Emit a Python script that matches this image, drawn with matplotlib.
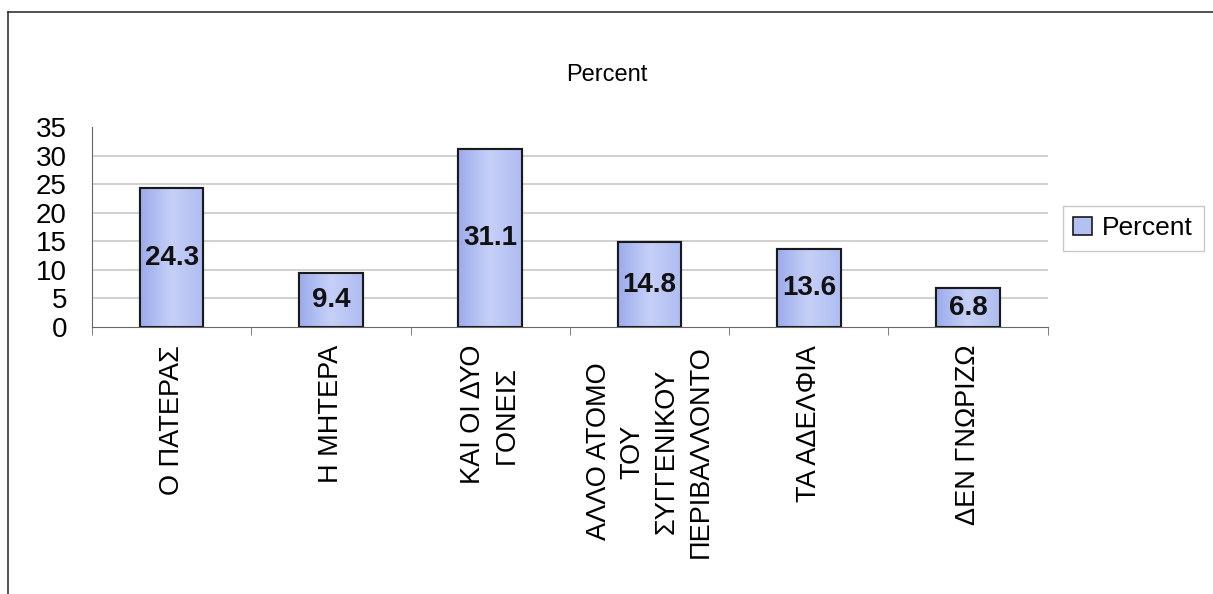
import numpy as np
import matplotlib
matplotlib.use("Agg")
import matplotlib.pyplot as plt
from matplotlib.lines import Line2D

# data
categories = ["Ο ΠΑΤΕΡΑΣ", "Η ΜΗΤΕΡΑ", "ΚΑΙ ΟΙ ΔΥΟ\nΓΟΝΕΙΣ",
              "ΑΛΛΟ ΑΤΟΜΟ\nΤΟΥ\nΣΥΓΓΕΝΙΚΟΥ\nΠΕΡΙΒΑΛΛΟΝΤΟ",
              "ΤΑ ΑΔΕΛΦΙΑ", "ΔΕΝ ΓΝΩΡΙΖΩ"]
percent = [24.3, 9.4, 31.1, 14.8, 13.6, 6.8]
yticks = [0, 5, 10, 15, 20, 25, 30, 35]

plt.rcParams['font.family'] = ['Liberation Sans', 'DejaVu Sans']

fig = plt.figure(figsize=(12.13, 5.94), dpi=100)
ax = fig.add_axes([0.0758, 0.4495, 0.788, 0.3365])

x = np.arange(len(categories))
bars = ax.bar(x, percent, width=0.4, color="#b3c0f3", edgecolor="#1a1a1a",
              linewidth=1.5, zorder=3)

# horizontal gradient inside each bar
grad = np.linspace(0, 1, 64).reshape(1, -1)
cmap = matplotlib.colors.LinearSegmentedColormap.from_list(
    "bar", ["#9cacec", "#c6d0f7", "#aebcf1"])
for b in bars:
    im = ax.imshow(grad, extent=[b.get_x(), b.get_x() + b.get_width(), 0, b.get_height()],
                   aspect="auto", cmap=cmap, zorder=3.1)
    im.set_clip_path(b)
    edge = matplotlib.patches.Rectangle((b.get_x(), 0), b.get_width(), b.get_height(),
                                        fill=False, edgecolor="#1a1a1a", linewidth=1.5, zorder=3.2)
    ax.add_patch(edge)

for xi, v in zip(x, percent):
    ax.text(xi, v / 2, f"{v}", ha="center", va="center", fontsize=20,
            fontweight="bold", color="#111111", zorder=4)

ax.set_xlim(-0.5, len(categories) - 0.5)
ax.set_ylim(0, 35)
ax.set_yticks(yticks)
ax.set_yticklabels([str(t) for t in yticks], fontsize=20)
ax.tick_params(axis="y", length=0, pad=18)
for t in yticks[1:-1]:
    ax.axhline(t, color="#c8c8c8", linewidth=1.2, zorder=1)

ax.set_xticks(x)
ax.set_xticklabels(categories, rotation=90, fontsize=19.5, multialignment="center",
                   linespacing=1.4)
ax.tick_params(axis="x", length=0, pad=13)
ax.set_xticks(np.arange(-0.5, len(categories)), minor=True)
ax.tick_params(axis="x", which="minor", length=6, color="#666666", direction="out")

for s in ["top", "right"]:
    ax.spines[s].set_visible(False)
ax.spines["left"].set_color("#666666")
ax.spines["bottom"].set_color("#666666")
ax.spines["bottom"].set_zorder(5)
ax.set_facecolor("white")

fig.text(0.5, 0.874, "Percent", ha="center", va="center", fontsize=17)

handle = matplotlib.patches.Patch(facecolor="#b3c0f3", edgecolor="#1a1a1a", linewidth=1.2)
fig.legend([handle], ["Percent"], loc="center left", bbox_to_anchor=(0.876, 0.616),
           fontsize=19, frameon=True, fancybox=False, edgecolor="#bbbbbb",
           handlelength=0.7, handleheight=0.7, handletextpad=0.4, borderpad=0.4,
           borderaxespad=0)

# outer chart frame
fig.add_artist(Line2D([0.007, 1.0], [0.98, 0.98], color="#333333", linewidth=1.2))
fig.add_artist(Line2D([0.007, 0.007], [0.0, 0.98], color="#333333", linewidth=1.2))

fig.savefig("out.png", dpi=100)
